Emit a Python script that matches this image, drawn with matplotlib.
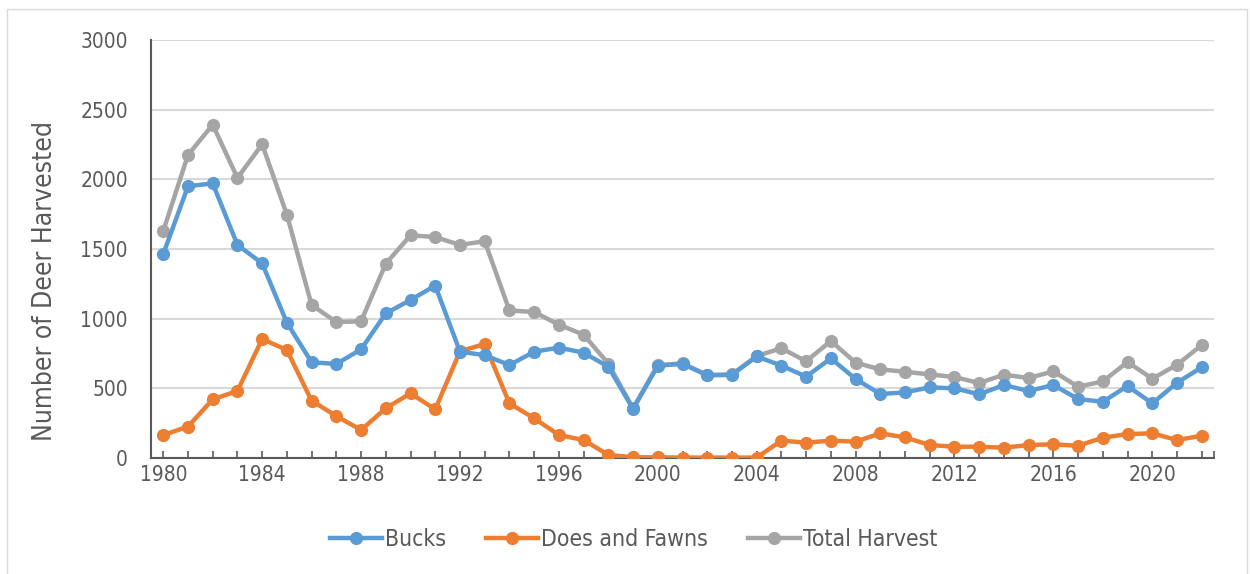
import matplotlib
matplotlib.use("Agg")
import matplotlib.pyplot as plt
from matplotlib.patches import Rectangle
from matplotlib.lines import Line2D

years = list(range(1980, 2023))
bucks = [1464, 1950, 1971, 1529, 1397, 971, 687, 675, 780, 1038, 1134, 1237,
         763, 738, 667, 763, 792, 756, 655, 352, 662, 676, 593, 597, 729,
         663, 584, 715, 567, 459, 471, 507, 500, 457, 524, 481, 524, 423,
         404, 517, 392, 540, 651]
does_fawns = [165, 225, 421, 481, 854, 775, 411, 301, 201, 357, 464, 349,
              766, 818, 392, 285, 165, 129, 22, 5, 5, 3, 3, 3, 3,
              125, 110, 125, 117, 177, 148, 93, 81, 81, 74, 93, 98, 88,
              146, 172, 177, 129, 160]
total = [1629, 2175, 2392, 2010, 2251, 1746, 1098, 976, 981, 1395, 1598, 1586,
         1529, 1556, 1059, 1048, 957, 885, 677, 357, 667, 679, 596, 600, 732,
         788, 694, 840, 684, 636, 619, 600, 581, 538, 598, 574, 622, 511,
         550, 689, 569, 669, 811]

series_names = ["Bucks", "Does and Fawns", "Total Harvest"]
colors = ["#5B9BD5", "#ED7D31", "#A5A5A5"]
text_color = "#595959"

plt.rcParams["font.family"] = ["DejaVu Sans"]
plt.rcParams["font.stretch"] = "condensed"

LW = 3.2
MS = 9.5

fig = plt.figure(figsize=(12.5, 5.74), dpi=100)
ax = fig.add_axes([150.9 / 1250, 116 / 574, (1214.1 - 150.9) / 1250, 418 / 574])

# Chart-area border
fig.patches.append(Rectangle((7 / 1250, -0.01), 1240 / 1250, 1.01 - 9 / 574,
                             transform=fig.transFigure, fill=False,
                             edgecolor="#D9D9D9", linewidth=1.0))

# Draw total first so bucks sits on top where they overlap
for vals, name, c, z in [(total, series_names[2], colors[2], 2),
                         (does_fawns, series_names[1], colors[1], 3),
                         (bucks, series_names[0], colors[0], 4)]:
    ax.plot(years, vals, color=c, linewidth=LW, marker="o", markersize=MS,
            markeredgewidth=0, label=name, zorder=z, solid_capstyle="round")

ax.set_xlim(1979.5, 2022.5)
ax.set_ylim(0, 3000)
ax.set_yticks(range(0, 3001, 500))
ax.set_xticks(years + [2022.5])
ax.set_xticklabels([str(y) if (y - 1980) % 4 == 0 else "" for y in years] + [""])
ax.tick_params(axis="x", direction="in", length=5, width=1.2, color="#595959",
               labelsize=15, labelcolor=text_color, pad=5)
ax.tick_params(axis="y", length=0, labelsize=15, labelcolor=text_color, pad=16.5)

ax.grid(axis="y", color="#D9D9D9", linewidth=1.5, zorder=0)
ax.set_axisbelow(True)
for side in ["top", "right"]:
    ax.spines[side].set_visible(False)
for side in ["left", "bottom"]:
    ax.spines[side].set_color("#595959")
    ax.spines[side].set_linewidth(1.5)

ax.set_ylabel("Number of Deer Harvested", fontsize=19, color=text_color)
ax.yaxis.set_label_coords((58 - 150.9) / (1214.1 - 150.9), (458 - 281) / 418)

handles = [Line2D([], [], color=c, linewidth=LW, marker="o", markersize=MS,
                  markeredgewidth=0) for c in colors]
fig.legend(handles, series_names, loc="center", bbox_to_anchor=(634 / 1250, 1 - 540 / 574),
           ncol=3, frameon=False, fontsize=16.5, labelcolor=text_color,
           handlelength=2.25, handletextpad=0.15, columnspacing=1.75)

fig.savefig("out.png", dpi=100)
